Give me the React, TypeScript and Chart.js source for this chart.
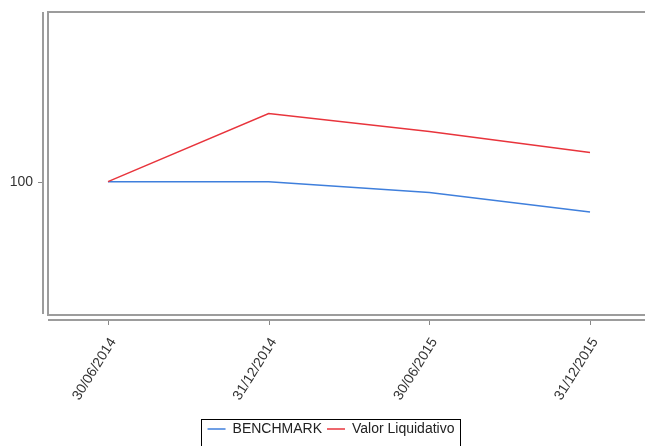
import React, { useEffect, useRef } from "react";
import { Chart, registerables } from "chart.js";

Chart.register(...registerables);

const categories = ["30/06/2014", "31/12/2014", "30/06/2015", "31/12/2015"];
const benchmarkValues = [100, 100, 99.64, 99.0];
const valorValues = [100, 102.25, 101.66, 100.96];
const yTickValues = [100];
const seriesNames = ["BENCHMARK", "Valor Liquidativo"];

const FONT = "'Liberation Sans', Arial, sans-serif";

const framePlugin = {
  id: "frame",
  beforeDatasetsDraw(chart: any) {
    const { ctx, chartArea } = chart;
    const { left, top, right, bottom } = chartArea;
    ctx.save();
    ctx.strokeStyle = "#9c9c9c";
    ctx.lineWidth = 2;
    ctx.strokeRect(left, top, right - left + 10, bottom - top);
    ctx.beginPath();
    ctx.moveTo(left - 5, top);
    ctx.lineTo(left - 5, bottom - 1);
    ctx.stroke();
    ctx.beginPath();
    ctx.moveTo(left, bottom + 5);
    ctx.lineTo(right, bottom + 5);
    ctx.stroke();
    ctx.lineWidth = 1;
    ctx.strokeStyle = "#888";
    const ys = chart.scales.y;
    ys.ticks.forEach((t: any) => {
      const py = Math.round(ys.getPixelForValue(t.value)) + 0.5;
      ctx.beginPath();
      ctx.moveTo(left - 10, py);
      ctx.lineTo(left - 6, py);
      ctx.stroke();
    });
    const xs = chart.scales.x;
    xs.ticks.forEach((t: any) => {
      const px = Math.round(xs.getPixelForValue(t.value)) + 0.5;
      ctx.beginPath();
      ctx.moveTo(px, bottom + 6);
      ctx.lineTo(px, bottom + 10);
      ctx.stroke();
    });
    ctx.restore();
  },
  afterDraw(chart: any) {
    const lg = chart.legend;
    if (!lg || !lg.legendHitBoxes || !lg.legendHitBoxes.length) return;
    const boxes = lg.legendHitBoxes;
    const first = boxes[0];
    const last = boxes[boxes.length - 1];
    const { ctx } = chart;
    ctx.save();
    ctx.strokeStyle = "#000";
    ctx.lineWidth = 1;
    const l = Math.round(first.left - 7) + 0.5;
    const r = Math.round(last.left + last.width + 6) + 0.5;
    const t = Math.round(first.top - 3) + 0.5;
    ctx.strokeRect(l, t, r - l, 40);
    ctx.restore();
  },
};

const zeroPad = (s: any) => {
  s.paddingTop = 0;
  s.paddingBottom = 0;
  s.paddingLeft = 0;
  s.paddingRight = 0;
};

export default function App() {
  const ref = useRef<HTMLCanvasElement | null>(null);
  useEffect(() => {
    if (!ref.current) return;
    const chart = new Chart(ref.current, {
      type: "line",
      data: {
        datasets: [
          {
            label: seriesNames[0],
            data: benchmarkValues.map((v, i) => ({ x: i, y: v })),
            borderColor: "#3f7fdc",
            backgroundColor: "#3f7fdc",
            borderWidth: 1.5,
            pointRadius: 0,
            tension: 0,
            order: 1,
          },
          {
            label: seriesNames[1],
            data: valorValues.map((v, i) => ({ x: i, y: v })),
            borderColor: "#e8343c",
            backgroundColor: "#e8343c",
            borderWidth: 1.5,
            pointRadius: 0,
            tension: 0,
            order: 0,
          },
        ],
      },
      plugins: [framePlugin],
      options: {
        animation: false,
        responsive: true,
        maintainAspectRatio: false,
        layout: { padding: { top: 12, right: 0, left: 0, bottom: 0 } },
        plugins: {
          tooltip: { enabled: false },
          legend: {
            position: "bottom",
            labels: {
              usePointStyle: true,
              pointStyle: "line",
              pointStyleWidth: 18,
              padding: 5,
              color: "#222",
              font: { family: FONT, size: 14 },
              sort: (a: any, b: any) => a.datasetIndex - b.datasetIndex,
            },
          },
        },
        scales: {
          x: {
            type: "linear",
            min: -0.3734,
            max: 3.448,
            grid: { display: false, drawTicks: false },
            border: { display: false },
            afterBuildTicks: (s: any) => {
              s.ticks = categories.map((_, i) => ({ value: i }));
            },
            afterFit: (s: any) => {
              s.height = 102;
              zeroPad(s);
            },
            ticks: {
              autoSkip: false,
              maxRotation: 58,
              minRotation: 58,
              padding: 20,
              labelOffset: 5,
              color: "#333",
              font: { family: FONT, size: 14 },
              callback: (v: any) => categories[v as number] ?? "",
            },
          },
          y: {
            min: 95.6,
            max: 105.6,
            grid: { display: false, drawTicks: false },
            border: { display: false },
            afterBuildTicks: (s: any) => {
              s.ticks = yTickValues.map((v) => ({ value: v }));
            },
            afterFit: (s: any) => {
              s.width = 48;
              zeroPad(s);
            },
            ticks: {
              padding: 15,
              color: "#333",
              font: { family: FONT, size: 14 },
            },
          },
        },
      },
    });
    return () => chart.destroy();
  }, []);
  return (
    <div
      style={{
        position: "fixed",
        left: 0,
        top: 0,
        width: 645,
        height: 446,
        overflow: "hidden",
        background: "#fff",
      }}
    >
      <div style={{ position: "relative", width: 662, height: 446 }}>
        <canvas ref={ref} />
      </div>
    </div>
  );
}
